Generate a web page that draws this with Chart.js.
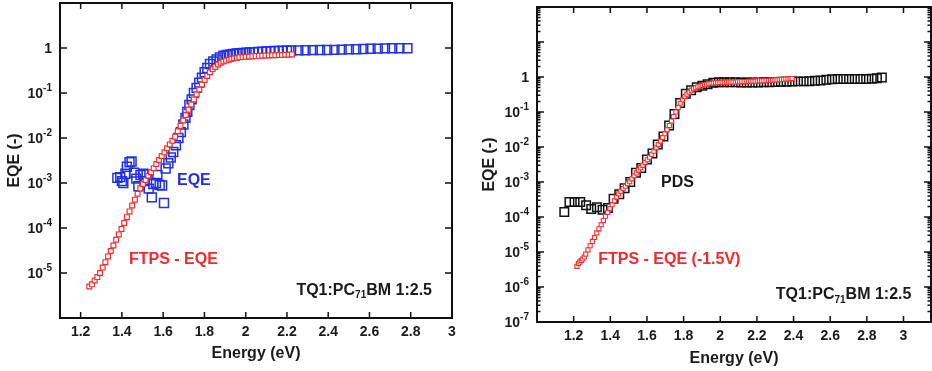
<!DOCTYPE html>
<html><head><meta charset="utf-8">
<script src="https://cdn.jsdelivr.net/npm/chart.js@4"></script>
<style>
html,body{margin:0;padding:0;background:#fff;}
#wrap{position:relative;width:932px;height:371px;overflow:hidden;background:#fff;}
canvas{position:absolute;top:0;}
</style></head><body>
<div id="wrap">
<canvas id="left" width="470" height="371" style="left:0px"></canvas>
<canvas id="right" width="462" height="371" style="left:470px"></canvas>
</div>
<script>
// ---------- LEFT PANEL DATA ----------
const leftFtpsEnergy = [1.242,1.255,1.268,1.281,1.294,1.307,1.320,1.333,1.346,1.359,1.372,1.385,1.398,1.411,1.424,1.437,1.450,1.463,1.476,1.489,1.502,1.515,1.528,1.541,1.554,1.567,1.580,1.593,1.606,1.619,1.632,1.645,1.658,1.671,1.684,1.697,1.710,1.723,1.736,1.749,1.762,1.775,1.788,1.801,1.814,1.827,1.840,1.853,1.866,1.879,1.892,1.905,1.918,1.931,1.944,1.957,1.970,1.985,2.000,2.016,2.032,2.048,2.064,2.080,2.096,2.112,2.128,2.144,2.160,2.176,2.192,2.208,2.224];
const leftFtpsEQE = [5.0e-6,5.6e-6,6.8e-6,8.1e-6,1.0e-5,1.32e-5,1.74e-5,2.34e-5,3.09e-5,4.07e-5,5.5e-5,7.2e-5,9.5e-5,1.29e-4,1.74e-4,2.34e-4,3.16e-4,4.27e-4,5.75e-4,7.6e-4,9.5e-4,1.17e-3,1.45e-3,1.74e-3,2.14e-3,2.63e-3,3.24e-3,3.98e-3,4.8e-3,5.9e-3,7.2e-3,8.7e-3,1.07e-2,1.41e-2,1.86e-2,2.45e-2,3.24e-2,4.27e-2,5.6e-2,7.2e-2,9.3e-2,0.120,0.155,0.195,0.24,0.29,0.34,0.38,0.43,0.47,0.50,0.525,0.55,0.57,0.59,0.60,0.62,0.63,0.64,0.645,0.65,0.66,0.67,0.675,0.68,0.685,0.69,0.69,0.70,0.70,0.71,0.71,0.72];
const leftEqeEnergy = [1.378,1.392,1.400,1.407,1.417,1.424,1.437,1.447,1.459,1.470,1.480,1.490,1.504,1.510,1.520,1.530,1.545,1.552,1.565,1.572,1.583,1.595,1.604,1.612,1.625,1.637,1.649,1.662,1.674,1.686,1.698,1.708,1.717,1.727,1.738,1.749,1.762,1.775,1.788,1.801,1.814,1.827,1.843,1.859,1.875,1.892,1.908,1.924,1.940,1.956,1.972,1.988,2.004,2.020,2.040,2.060,2.080,2.100,2.120,2.140,2.160,2.180,2.200,2.220,2.255,2.290,2.325,2.360,2.395,2.430,2.465,2.500,2.535,2.570,2.605,2.640,2.675,2.710,2.745,2.784];
const leftEqeValues = [1.3e-3,1.35e-3,1.1e-3,1.0e-3,1.6e-3,2.3e-3,2.9e-3,3.0e-3,1.7e-3,1.25e-3,8.5e-4,1.5e-3,1.6e-3,1.1e-3,1.55e-3,7.5e-4,4.8e-4,9.5e-4,1.0e-3,1.5e-3,9.0e-4,8.8e-4,3.6e-4,2.1e-3,2.75e-3,3.7e-3,4.9e-3,6.9e-3,1.0e-2,1.35e-2,2.0e-2,2.8e-2,3.8e-2,5.4e-2,7.2e-2,0.10,0.13,0.17,0.22,0.29,0.36,0.44,0.50,0.56,0.62,0.67,0.70,0.72,0.74,0.76,0.77,0.78,0.79,0.80,0.81,0.82,0.83,0.84,0.85,0.86,0.865,0.87,0.875,0.88,0.885,0.89,0.895,0.90,0.90,0.91,0.92,0.93,0.94,0.95,0.96,0.97,0.98,0.99,0.99,0.99];
const leftXTicks = [1.2,1.4,1.6,1.8,2.0,2.2,2.4,2.6,2.8,3.0];
const leftYTickLabels = [1,1e-1,1e-2,1e-3,1e-4,1e-5];

// ---------- RIGHT PANEL DATA ----------
const rightFtpsEnergy = [1.218,1.226,1.234,1.242,1.250,1.258,1.266,1.278,1.290,1.302,1.314,1.326,1.338,1.350,1.362,1.374,1.386,1.398,1.410,1.422,1.434,1.446,1.458,1.470,1.482,1.494,1.506,1.518,1.530,1.542,1.554,1.566,1.578,1.590,1.602,1.614,1.626,1.638,1.650,1.662,1.674,1.686,1.698,1.710,1.722,1.734,1.746,1.758,1.770,1.782,1.794,1.806,1.818,1.830,1.842,1.854,1.866,1.878,1.890,1.902,1.914,1.926,1.938,1.950,1.962,1.974,1.986,1.998,2.010,2.022,2.034,2.046,2.058,2.070,2.082,2.094,2.106,2.118,2.130,2.142,2.154,2.166,2.178,2.190,2.202,2.214,2.226,2.238,2.250,2.262,2.274,2.286,2.298,2.310,2.322,2.334,2.346,2.358,2.370,2.382,2.392];
const rightFtpsEQE = [3.9e-6,4.7e-6,5.2e-6,5.75e-6,6.3e-6,7.2e-6,8.7e-6,1.15e-5,1.51e-5,2.0e-5,2.6e-5,3.5e-5,4.6e-5,6.0e-5,7.9e-5,1.05e-4,1.35e-4,1.74e-4,2.24e-4,2.9e-4,3.7e-4,4.6e-4,5.4e-4,6.5e-4,7.6e-4,8.9e-4,1.02e-3,1.23e-3,1.51e-3,1.82e-3,2.19e-3,2.57e-3,3.0e-3,3.6e-3,4.3e-3,5.1e-3,6.2e-3,7.6e-3,9.5e-3,1.17e-2,1.48e-2,1.86e-2,2.4e-2,3.1e-2,4.1e-2,5.5e-2,7.4e-2,0.100,0.135,0.178,0.224,0.275,0.324,0.37,0.42,0.46,0.49,0.525,0.55,0.575,0.60,0.62,0.645,0.66,0.675,0.685,0.69,0.70,0.71,0.71,0.715,0.715,0.72,0.72,0.72,0.73,0.73,0.74,0.74,0.74,0.75,0.75,0.76,0.76,0.77,0.78,0.78,0.785,0.79,0.80,0.80,0.81,0.82,0.83,0.84,0.85,0.86,0.87,0.88,0.89,0.90];
const rightPdsEnergy = [1.149,1.177,1.205,1.236,1.268,1.296,1.327,1.358,1.387,1.418,1.449,1.478,1.509,1.540,1.569,1.600,1.630,1.659,1.690,1.721,1.750,1.781,1.812,1.841,1.872,1.902,1.931,1.962,1.992,2.021,2.052,2.083,2.114,2.145,2.176,2.207,2.238,2.269,2.300,2.331,2.362,2.393,2.424,2.455,2.486,2.517,2.548,2.579,2.610,2.641,2.672,2.703,2.734,2.765,2.796,2.827,2.855,2.882];
const rightPdsValues = [1.4e-4,2.7e-4,2.7e-4,2.7e-4,2.15e-4,1.7e-4,1.9e-4,1.6e-4,1.8e-4,3.3e-4,4.5e-4,6.6e-4,1.0e-3,1.85e-3,2.5e-3,4.4e-3,6.5e-3,1.17e-2,2.0e-2,4.1e-2,8.7e-2,0.18,0.33,0.42,0.51,0.56,0.62,0.68,0.71,0.71,0.71,0.71,0.70,0.70,0.70,0.70,0.71,0.71,0.72,0.73,0.73,0.74,0.75,0.75,0.76,0.78,0.80,0.83,0.86,0.87,0.88,0.88,0.88,0.88,0.88,0.89,0.92,0.97];
const rightXTicks = [1.2,1.4,1.6,1.8,2.0,2.2,2.4,2.6,2.8,3.0];
const rightYTickLabels = [1,1e-1,1e-2,1e-3,1e-4,1e-5,1e-6,1e-7];

// ---------- annotations (text + data coordinates) ----------
const leftNotes = [
  {parts:[{t:'EQE'}], x:1.667, y:1.15e-3, align:'left', color:'#1f2de6'},
  {parts:[{t:'FTPS - EQE'}], x:1.434, y:2.0e-5, align:'left', color:'#ee2a2a'},
  {parts:[{t:'TQ1:PC'},{t:'71',sub:true},{t:'BM 1:2.5'}], x:2.903, y:4.1e-6, align:'right', color:'#1a1a1a'}
];
const rightNotes = [
  {parts:[{t:'PDS'}], x:1.677, y:9.5e-4, align:'left', color:'#1a1a1a'},
  {parts:[{t:'FTPS - EQE (-1.5V)'}], x:1.334, y:6.1e-6, align:'left', color:'#ee2a2a'},
  {parts:[{t:'TQ1:PC'},{t:'71',sub:true},{t:'BM 1:2.5'}], x:3.043, y:6.0e-7, align:'right', color:'#1a1a1a'}
];

const FONT = "'Liberation Sans', Arial, Helvetica, sans-serif";
const TXT = '#1a1a1a';

function pts(xs, ys) { return xs.map((e, i) => ({x: e, y: ys[i]})); }

function makeFramePlugin(cfg) {
  return {
    id: 'frame_' + cfg.name,
    afterDraw(chart) {
      const ctx = chart.ctx, ca = chart.chartArea, xs = chart.scales.x, ys = chart.scales.y;
      ctx.save();
      ctx.strokeStyle = '#111';
      ctx.lineWidth = 1.5;
      ctx.beginPath();
      cfg.xTicks.forEach(v => {
        const px = xs.getPixelForValue(v);
        ctx.moveTo(px, ca.bottom); ctx.lineTo(px, ca.bottom - cfg.xLen);
        ctx.moveTo(px, ca.top); ctx.lineTo(px, ca.top + cfg.xLen);
      });
      const lo = Math.round(Math.log10(ys.min)), hi = Math.round(Math.log10(ys.max));
      for (let k = lo; k <= hi; k++) {
        const py = ys.getPixelForValue(Math.pow(10, k));
        ctx.moveTo(ca.left, py); ctx.lineTo(ca.left + cfg.majorLen, py);
        ctx.moveTo(ca.right, py); ctx.lineTo(ca.right - cfg.majorLen, py);
        if (cfg.minorLen && k < hi) {
          for (let m = 2; m <= 9; m++) {
            const pm = ys.getPixelForValue(m * Math.pow(10, k));
            ctx.moveTo(ca.left, pm); ctx.lineTo(ca.left + cfg.minorLen, pm);
            ctx.moveTo(ca.right, pm); ctx.lineTo(ca.right - cfg.minorLen, pm);
          }
        }
      }
      ctx.stroke();
      ctx.lineWidth = 2;
      ctx.strokeRect(ca.left, ca.top, ca.right - ca.left, ca.bottom - ca.top);

      // y tick labels with superscript exponents
      ctx.fillStyle = TXT;
      ctx.textBaseline = 'middle';
      const xr = ca.left - 8;
      cfg.yLabels.forEach(v => {
        const py = ys.getPixelForValue(v);
        const k = Math.round(Math.log10(v));
        if (k === 0) {
          ctx.font = 'bold 14px ' + FONT;
          ctx.textAlign = 'right';
          ctx.fillText('1', xr, py + 1);
        } else {
          const sup = String(k);
          ctx.font = 'bold 10px ' + FONT;
          const sw = ctx.measureText(sup).width;
          ctx.textAlign = 'left';
          ctx.fillText(sup, xr - sw, py - 5);
          ctx.font = 'bold 14px ' + FONT;
          ctx.textAlign = 'right';
          ctx.fillText('10', xr - sw, py + 1);
        }
      });

      // annotations
      cfg.notes.forEach(n => {
        const px = xs.getPixelForValue(n.x), py = ys.getPixelForValue(n.y);
        let total = 0;
        n.parts.forEach(p => { ctx.font = 'bold ' + (p.sub ? 10 : 16) + 'px ' + FONT; total += ctx.measureText(p.t).width; });
        let cx = n.align === 'right' ? px - total : px;
        ctx.fillStyle = n.color;
        ctx.textAlign = 'left';
        n.parts.forEach(p => {
          ctx.font = 'bold ' + (p.sub ? 10 : 16) + 'px ' + FONT;
          ctx.fillText(p.t, cx, p.sub ? py + 5 : py);
          cx += ctx.measureText(p.t).width;
        });
      });
      ctx.restore();
    }
  };
}

function fmtX(v) { return String(Math.round(v * 10) / 10); }

function buildChart(id, cfg) {
  return new Chart(document.getElementById(id), {
    type: 'scatter',
    data: { datasets: cfg.datasets },
    options: {
      responsive: false, animation: false, devicePixelRatio: 1,
      layout: { padding: cfg.padding, autoPadding: false },
      plugins: { legend: { display: false }, tooltip: { enabled: false } },
      scales: {
        x: {
          type: 'linear', min: cfg.xMin, max: cfg.xMax,
          afterBuildTicks: s => { s.ticks = cfg.xTicks.map(v => ({value: v})); },
          afterFit: s => { s.height = cfg.xHeight; },
          grid: { display: false, drawTicks: false },
          border: { display: false },
          ticks: { autoSkip: false, maxRotation: 0, padding: cfg.xTickPad, color: TXT,
                   font: { family: FONT, size: 14, weight: 'bold' }, callback: v => fmtX(v) },
          title: { display: true, text: 'Energy (eV)', color: TXT,
                   font: { family: FONT, size: 16, weight: 'bold' }, padding: { top: 0, bottom: cfg.xTitlePad } }
        },
        y: {
          type: 'logarithmic', min: cfg.yMin, max: cfg.yMax,
          afterFit: s => { s.width = cfg.yWidth; },
          grid: { display: false, drawTicks: false },
          border: { display: false },
          ticks: { display: false },
          title: { display: true, text: 'EQE (-)', color: TXT,
                   font: { family: FONT, size: 16, weight: 'bold' }, padding: { top: cfg.yTitlePad, bottom: 0 } }
        }
      }
    },
    plugins: [makeFramePlugin(cfg)]
  });
}

buildChart('left', {
  name: 'left',
  datasets: [
    { label: 'FTPS - EQE', data: pts(leftFtpsEnergy, leftFtpsEQE), pointStyle: 'rect', pointRadius: 3.4,
      borderColor: '#f03030', backgroundColor: '#ffffff', borderWidth: 1.2, showLine: false },
    { label: 'EQE', data: pts(leftEqeEnergy, leftEqeValues), pointStyle: 'rect', pointRadius: 6.3,
      borderColor: '#2030e6', backgroundColor: 'rgba(0,0,0,0)', borderWidth: 1.5, showLine: false }
  ],
  padding: { left: 0, right: 18, top: 3, bottom: 0 },
  xMin: 1.1, xMax: 3.0, yMin: 1e-6, yMax: 10,
  xTicks: leftXTicks, yLabels: leftYTickLabels, notes: leftNotes,
  xHeight: 53, yWidth: 60, xTickPad: 6, xTitlePad: 8, yTitlePad: 5,
  xLen: 6, majorLen: 7, minorLen: 0
});

buildChart('right', {
  name: 'right',
  datasets: [
    { label: 'FTPS - EQE (-1.5V)', data: pts(rightFtpsEnergy, rightFtpsEQE), pointStyle: 'rect', pointRadius: 2.9,
      borderColor: '#f03030', backgroundColor: '#ffffff', borderWidth: 1.1, showLine: false },
    { label: 'PDS', data: pts(rightPdsEnergy, rightPdsValues), pointStyle: 'rect', pointRadius: 6.0,
      borderColor: '#111111', backgroundColor: 'rgba(0,0,0,0)', borderWidth: 1.5, showLine: false }
  ],
  padding: { left: 0, right: 1, top: 7, bottom: 0 },
  xMin: 1.0, xMax: 3.15, yMin: 1e-7, yMax: 100,
  xTicks: rightXTicks, yLabels: rightYTickLabels, notes: rightNotes,
  xHeight: 49, yWidth: 67, xTickPad: 6, xTitlePad: 3, yTitlePad: 10,
  xLen: 6, majorLen: 7, minorLen: 3.5
});
</script>
</body></html>
